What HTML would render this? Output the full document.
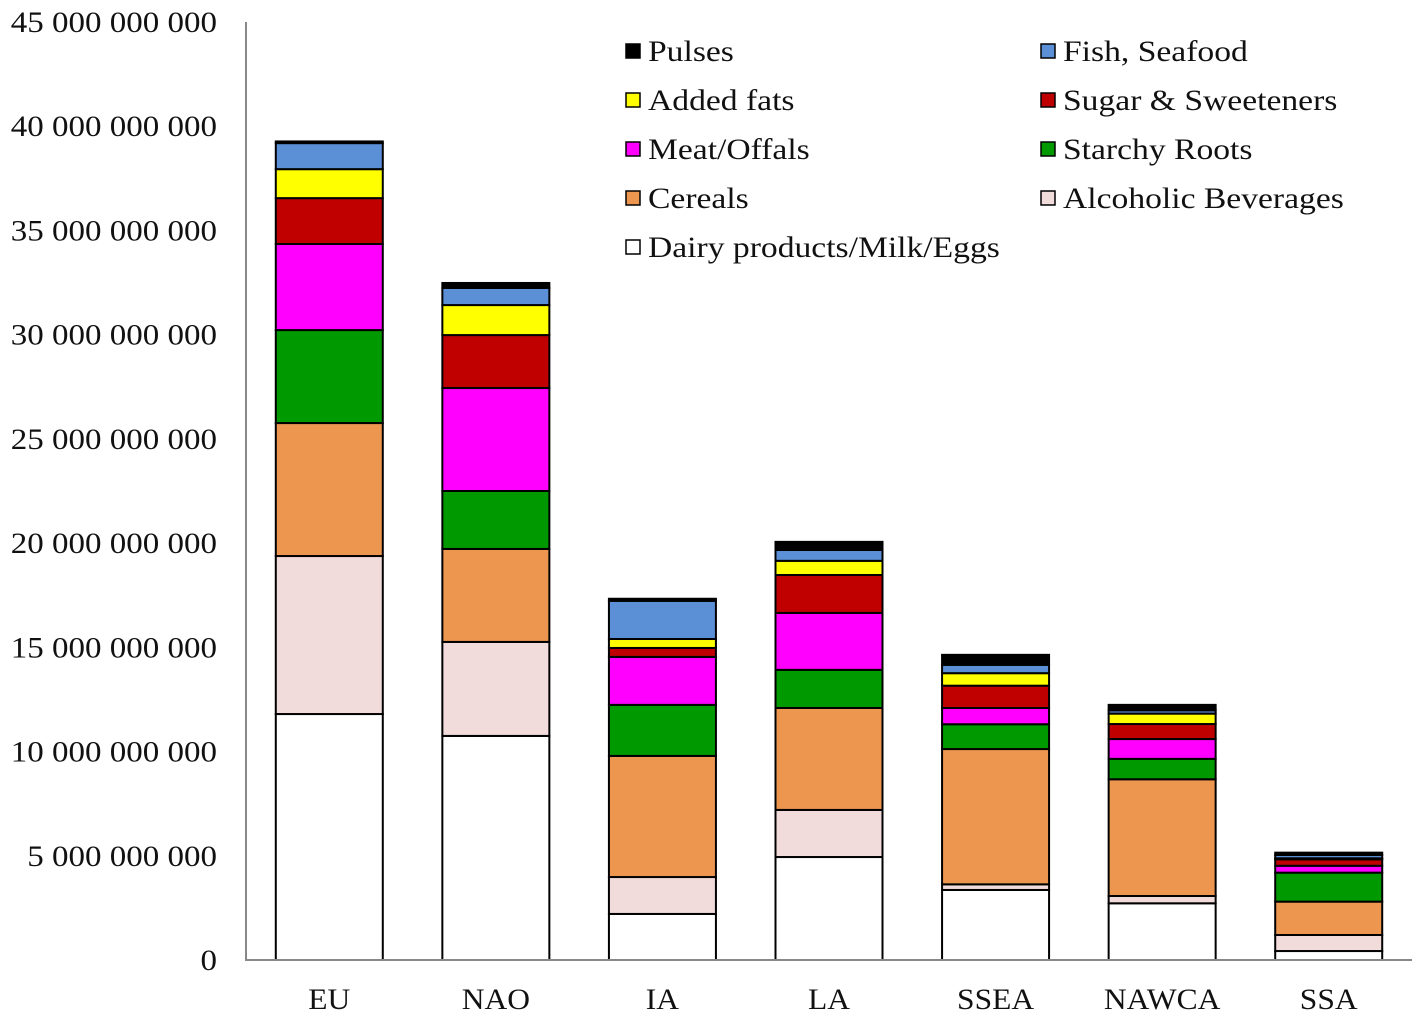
<!DOCTYPE html>
<html><head><meta charset="utf-8"><style>
html,body{margin:0;padding:0;background:#fff;}
svg{display:block;font-family:"Liberation Serif",serif;}
</style></head><body>
<svg id="chart" width="1418" height="1022" viewBox="0 0 1418 1022" xmlns="http://www.w3.org/2000/svg"></svg>
<script>
const categories = ["EU","NAO","IA","LA","SSEA","NAWCA","SSA"];
const seriesNames = ["Dairy products/Milk/Eggs","Alcoholic Beverages","Cereals","Starchy Roots","Meat/Offals","Sugar & Sweeteners","Added fats","Fish, Seafood","Pulses"];
const seriesColors = ["#ffffff","#f2dcdb","#ed9650","#009900","#ff00ff","#c00000","#ffff00","#5b8fd6","#000000"];
// values in billions
const dairy   = [11.8, 10.75, 2.21, 4.94, 3.36, 2.72, 0.43];
const alcohol = [7.58, 4.51, 1.77, 2.26, 0.27, 0.35, 0.77];
const cereals = [6.38, 4.46, 5.81, 4.89, 6.49, 5.6, 1.6];
const starchy = [4.46, 2.78, 2.45, 1.83, 1.19, 0.98, 1.39];
const meat    = [4.13, 4.94, 2.3, 2.73, 0.78, 0.95, 0.33];
const sugar   = [2.2, 2.54, 0.43, 1.82, 1.07, 0.72, 0.31];
const fats    = [1.39, 1.44, 0.43, 0.68, 0.6, 0.5, 0.05];
const fish    = [1.25, 0.82, 1.83, 0.52, 0.4, 0.16, 0.16];
const pulses  = [0.08, 0.24, 0.1, 0.39, 0.48, 0.26, 0.11];
const seriesValues = [dairy, alcohol, cereals, starchy, meat, sugar, fats, fish, pulses];
const yTicks = [0,5,10,15,20,25,30,35,40,45];
const yTickLabels = ["0","5 000 000 000","10 000 000 000","15 000 000 000","20 000 000 000","25 000 000 000","30 000 000 000","35 000 000 000","40 000 000 000","45 000 000 000"];

const NS="http://www.w3.org/2000/svg";
const svg=document.getElementById('chart');
const X0=246, X1=1412, Y0=960, YTOP=22, YMAX=45;
const y = v => Y0 - v*(Y0-YTOP)/YMAX;
const band=(X1-X0)/categories.length;
const xc = i => X0 + band*(i+0.5);
const BW=107;
function mk(tag,attrs){const e=document.createElementNS(NS,tag);for(const k in attrs)e.setAttribute(k,attrs[k]);svg.appendChild(e);return e;}
function stretch(t,f){const w=t.getComputedTextLength();t.setAttribute('textLength',w*f);t.setAttribute('lengthAdjust','spacingAndGlyphs');}

yTicks.forEach((t,i)=>{
  const tx=mk('text',{x:217,y:y(t)+10,'text-anchor':'end','font-size':30,fill:'#111'});
  tx.textContent=yTickLabels[i];
  
  
  stretch(tx,1.1);
});

categories.forEach((c,i)=>{
  let cum=0;
  seriesValues.forEach((arr,s)=>{
    const v=arr[i];
    const r=mk('rect',{x:xc(i)-BW/2,y:y(cum+v),width:BW,height:y(cum)-y(cum+v),fill:seriesColors[s],stroke:'#000','stroke-width':2});
    
    
    cum+=v;
  });
  const lt=mk('text',{x:xc(i),y:1009,'text-anchor':'middle','font-size':30,fill:'#111'});
  lt.textContent=c;
  
  
  stretch(lt,1.05);
});

const ax=mk('path',{d:`M${X0} ${YTOP} V${Y0} H${X1}`,fill:'none',stroke:'#888','stroke-width':2});



// legend
const legendOrder=[[8,7],[6,5],[4,3],[2,1],[0,null]];
const colX=[626,1041], rowY=[51,100,149,198,247];
legendOrder.forEach((row,ri)=>{
  row.forEach((s,ci)=>{
    if(s===null)return;
    const sq=mk('rect',{x:colX[ci],y:rowY[ri]-7,width:14,height:14,fill:seriesColors[s],stroke:'#000','stroke-width':1.5});
    
    
    const t=mk('text',{x:colX[ci]+22,y:rowY[ri]+10,'font-size':30,fill:'#111'});
    t.textContent=seriesNames[s];
    
    
    stretch(t,1.12);
  });
});
</script>
</body></html>
